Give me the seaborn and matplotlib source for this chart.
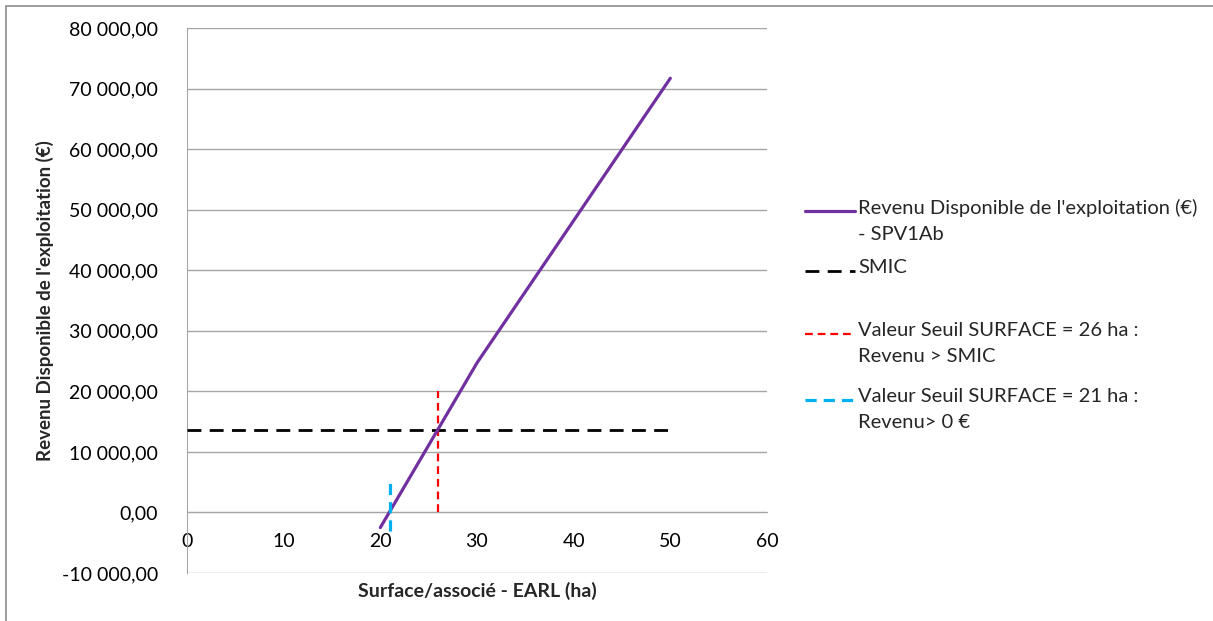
"""
Revenu disponible de l'exploitation selon la surface par associé (EARL).
"""

import matplotlib.pyplot as plt
import pandas as pd
import seaborn as sns
from matplotlib.lines import Line2D
from matplotlib.patches import Rectangle

# --- data ---
surface_ha = [20, 30, 50]
revenu_eur = [-2500, 24700, 71700]

smic_x = [0, 50]
smic_eur = [13600, 13600]

seuil_smic_x = [26, 26]
seuil_smic_y = [0, 20000]

seuil_zero_x = [21, 21]
seuil_zero_y = [-3000, 5000]

x_ticks = [0, 10, 20, 30, 40, 50, 60]
y_ticks = [-10000, 0, 10000, 20000, 30000, 40000, 50000, 60000, 70000, 80000]

legend_labels = [
    "Revenu Disponible de l'exploitation (€)\n- SPV1Ab",
    "SMIC",
    "Valeur Seuil SURFACE = 26 ha :\nRevenu > SMIC",
    "Valeur Seuil SURFACE = 21 ha :\nRevenu> 0 €",
]

PURPLE = "#7030A0"
RED = "#FF0000"
BLUE = "#00B0F0"
GRID = "#A6A6A6"

sns.set_style("white")
plt.rcParams["font.family"] = ["Lato", "DejaVu Sans"]

fig = plt.figure(figsize=(12.13, 6.21), dpi=100)
ax = fig.add_axes([187 / 1213, 1 - 573 / 621, 580 / 1213, 545 / 621])

df = pd.DataFrame({"surface": surface_ha, "revenu": revenu_eur})
sns.lineplot(data=df, x="surface", y="revenu", color=PURPLE, lw=2.3,
             solid_capstyle="round", ax=ax, zorder=5)

ax.plot(smic_x, smic_eur, color="black", lw=2.0, dashes=(5, 3), zorder=4)
ax.plot(seuil_smic_x, seuil_smic_y, color=RED, lw=1.6, dashes=(3.5, 2.2), zorder=4)
ax.plot(seuil_zero_x, seuil_zero_y, color=BLUE, lw=2.3, dashes=(3.5, 2.2), zorder=6)

ax.set_xlim(0, 60)
ax.set_ylim(-10000, 80000)
ax.set_xticks(x_ticks)
ax.set_yticks(y_ticks)


def fmt_eur(v, _):
    s = f"{abs(v):,.2f}".replace(",", " ").replace(".", ",")
    return ("-" if v < 0 else "") + s


ax.yaxis.set_major_formatter(plt.FuncFormatter(fmt_eur))

ax.grid(True, axis="y", color=GRID, lw=1.0)
for side in ["top", "right"]:
    ax.spines[side].set_visible(False)
ax.spines["left"].set_color(GRID)
ax.spines["bottom"].set_color(GRID)
ax.spines["bottom"].set_position(("data", 0))

ax.tick_params(axis="y", length=4, width=1, color=GRID, pad=17, labelsize=14, labelcolor="black")
ax.tick_params(axis="x", length=0, pad=15, labelsize=14, labelcolor="black")

ax.set_xlabel("Surface/associé - EARL (ha)", fontsize=14, fontweight="bold")
ax.set_ylabel("Revenu Disponible de l'exploitation (€)", fontsize=13.5, fontweight="bold")
ax.xaxis.set_label_coords(0.5, -0.033)
ax.xaxis.label.set_va("center")
ax.yaxis.set_label_coords(-0.245, 0.5)
ax.yaxis.label.set_va("center")

# legend drawn to the right, each handle aligned on the first text line
legend_styles = [
    dict(color=PURPLE, lw=2.3),
    dict(color="black", lw=2.0, dashes=(5, 3)),
    dict(color=RED, lw=1.6, dashes=(3.5, 2.2)),
    dict(color=BLUE, lw=2.3, dashes=(3.5, 2.2)),
]
legend_rows = [211, 271, 334, 400]
for label, style, row in zip(legend_labels, legend_styles, legend_rows):
    y = 1 - row / 621
    fig.add_artist(Line2D([805 / 1213, 855 / 1213], [y, y], **style))
    fig.text(858 / 1213, y + 12 / 621, label, fontsize=14.5, va="top", ha="left",
             linespacing=1.65)

# outer chart frame
fig.add_artist(Rectangle((6 / 1213, -0.05), 1.1, 1 - 6 / 621 + 0.05,
                         transform=fig.transFigure, fill=False,
                         edgecolor="#8C8C8C", lw=1.2))

fig.savefig("out.png", dpi=100)
